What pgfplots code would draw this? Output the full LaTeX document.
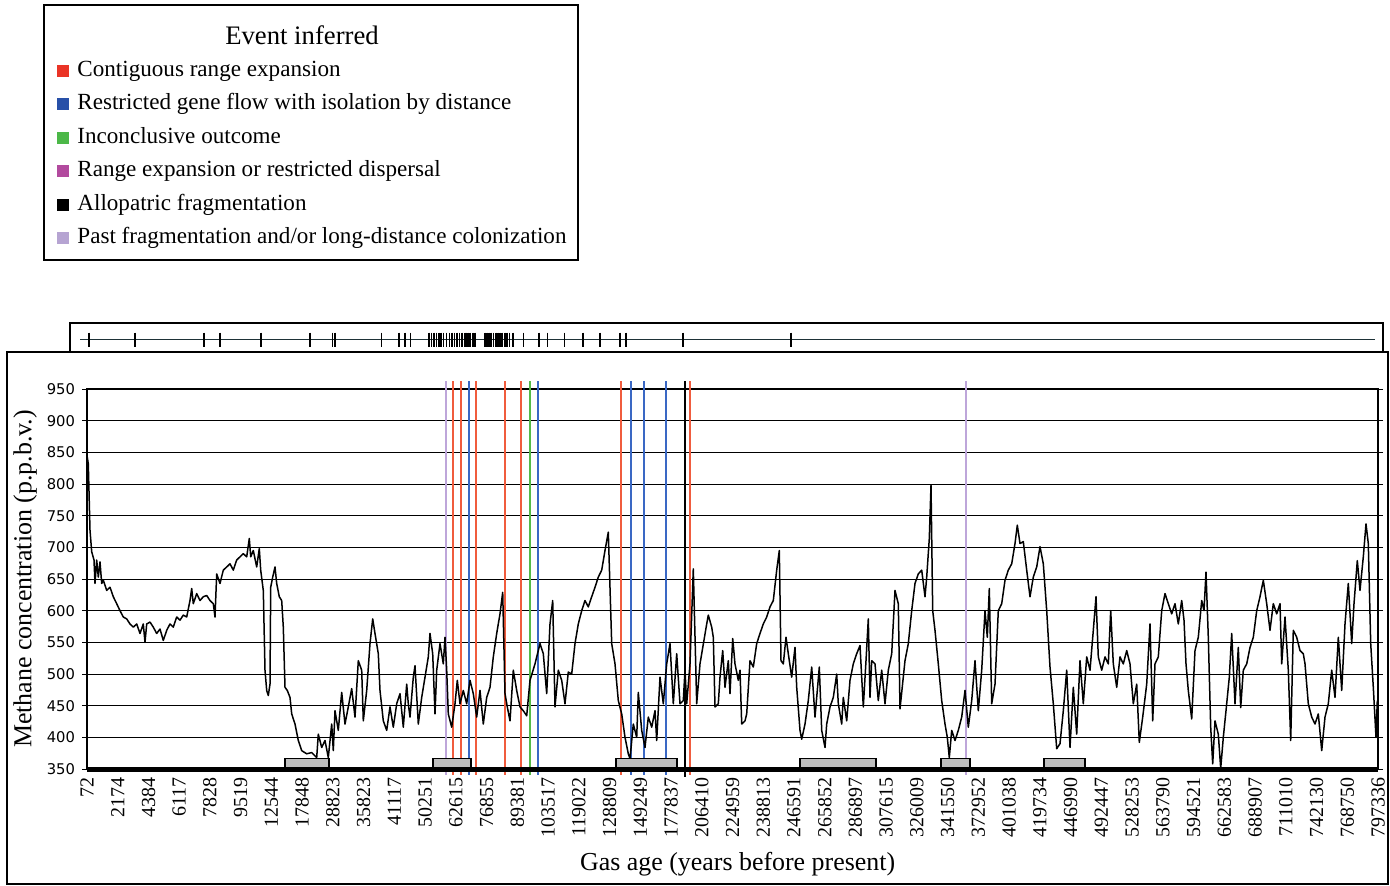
\documentclass[border=0pt]{standalone}
\usepackage{fontspec}
\setmainfont{Liberation Serif}
\newfontfamily\tickfont{DejaVu Sans}
\usepackage{pgfplots}
\pgfplotsset{compat=1.18}
\definecolor{lnred}{RGB}{240,92,62}
\definecolor{lnblue}{RGB}{58,104,196}
\definecolor{lngreen}{RGB}{84,186,72}
\definecolor{lnlav}{RGB}{190,166,218}
\definecolor{sqred}{RGB}{234,52,38}
\definecolor{sqblue}{RGB}{40,80,168}
\definecolor{sqgreen}{RGB}{76,184,72}
\definecolor{sqmag}{RGB}{178,74,158}
\definecolor{sqlav}{RGB}{182,164,210}
\definecolor{boxgray}{RGB}{190,190,190}
\definecolor{stripc}{RGB}{30,50,55}
\begin{document}
\begin{tikzpicture}
% frames
\draw[line width=0.8bp] (3.5bp,1bp) rectangle (694bp,267bp);
\draw[line width=0.8bp] (35bp,267bp) rectangle (691.5bp,281.5bp);
\draw[line width=0.8bp] (22bp,313bp) rectangle (289bp,440.5bp);

% legend
\tikzset{legtxt/.style={anchor=west, inner sep=0pt, text height=1.6ex, text depth=0.4ex,
        font=\fontsize{11.6}{13}\selectfont}}
\node[font=\fontsize{13.4}{15}\selectfont] at (151bp,425.5bp) {Event inferred};
\foreach \yy/\cc/\tt in {407.5/sqred/Contiguous range expansion,
  391/sqblue/Restricted gene flow with isolation by distance,
  374/sqgreen/Inconclusive outcome,
  357.5/sqmag/Range expansion or restricted dispersal,
  340.5/black/Allopatric fragmentation}{
  \fill[\cc] (28.5bp,\yy bp-3bp) rectangle +(6bp,6bp);
  \node[legtxt] at (38.5bp,\yy bp) {\tt};
}
\fill[sqlav] (28.5bp,321bp) rectangle +(6bp,6bp);
\node[legtxt] at (38.5bp,324bp) {Past fragmentation and/or long-distance colonization};

% main chart
\begin{axis}[
  at={(43.5bp,58.5bp)}, anchor=south west, scale only axis,
  width=645.5bp, height=190bp,
  xmin=0, xmax=1291, ymin=350, ymax=950,
  clip=false,
  xtick={0,30.7381,...,1291.2},
  xticklabels={72,2174,4384,6117,7828,9519,12544,17848,28823,35823,41117,50251,62615,76855,89381,103517,119022,128809,149249,177837,206410,224959,238813,246591,265852,286897,307615,326009,341550,372952,401038,419734,446990,492447,528253,563790,594521,662583,688907,711010,742130,768750,797336},
  xtick style={draw=none},
  ytick={350,400,...,950},
  ymajorgrids, grid style={black, line width=0.5bp},
  tick align=outside, ytick style={black, line width=0.5bp}, major tick length=2.5bp,
  axis line style={line width=0.6bp},
  xticklabel style={rotate=90, anchor=east, font=\fontsize{10}{10}\selectfont, inner sep=1.5bp},
  yticklabel style={font=\tickfont\fontsize{7.4}{8}\selectfont},
  /pgf/number format/assume math mode=true,
  xlabel={Gas age (years before present)},
  ylabel={Methane concentration (p.p.b.v.)},
  label style={font=\fontsize{13}{15}\selectfont},
  xlabel style={at={(axis description cs:0.504,-0.25)}, anchor=center},
  ylabel style={at={(axis description cs:-0.048,0.5)}, anchor=center},
]
% inferred events
\addplot[lnlav, line width=1bp] coordinates {(359,341) (359,962)};
\addplot[lnred, line width=1bp] coordinates {(366,341) (366,962)};
\addplot[lnred, line width=1bp] coordinates {(374.3,341) (374.3,962)};
\addplot[lnblue, line width=1bp] coordinates {(382.3,341) (382.3,962)};
\addplot[lnred, line width=1bp] coordinates {(388.7,341) (388.7,962)};
\addplot[lnred, line width=1bp] coordinates {(417.7,341) (417.7,962)};
\addplot[lnred, line width=1bp] coordinates {(433.7,341) (433.7,962)};
\addplot[lngreen, line width=1bp] coordinates {(443,341) (443,962)};
\addplot[lnblue, line width=1bp] coordinates {(451,341) (451,962)};
\addplot[lnred, line width=1bp] coordinates {(534,341) (534,962)};
\addplot[lnblue, line width=1bp] coordinates {(543.7,341) (543.7,962)};
\addplot[lnblue, line width=1bp] coordinates {(557,341) (557,962)};
\addplot[lnblue, line width=1bp] coordinates {(578.7,341) (578.7,962)};
\addplot[black, line width=0.9bp] coordinates {(598.3,338) (598.3,962)};
\addplot[lnred, line width=1bp] coordinates {(603,341) (603,962)};
\addplot[lnlav, line width=1bp] coordinates {(878.5,341) (878.5,962)};

% methane record
\addplot[black, line width=0.75bp, line join=round] coordinates {
(0,845) (1.3,832) (3,727) (4.7,693) (7,680) (8,643) (9.7,680) (11.3,653) (13,677) (14.7,643) (16.3,648) (19.7,632) (23,637) (26.3,622) (29.7,611) (33,600) (36.3,590) (39.7,587) (43,579) (46.3,574) (49.7,579) (53,564) (56.3,579) (58,550) (59.7,579) (63,582) (66.3,574) (69.7,564) (73,571) (76.3,553) (79.7,569) (83,579) (86.3,574) (89.7,590) (93,585) (96.3,593) (99.7,590) (103,616) (104.7,635) (106.3,611) (109.7,627) (113,616) (116.3,622) (119.7,624) (123,616) (126.3,611) (128,590) (129.7,658) (133,643) (136.3,664) (139.7,669) (143,674) (146.3,664) (149.7,680) (153,685) (156.3,690) (159.7,685) (162.3,714) (163.7,685) (166.3,695) (169.7,669) (172.3,698) (173.7,664) (176.3,632) (178,506) (179.7,474) (181.3,466) (183,484) (183.7,637) (185.7,653) (188,669) (189.7,643) (192.3,622) (194.7,616) (196.3,574) (198,479) (200.3,474) (203,463) (204.7,437) (208,421) (211.3,395) (214.7,379) (219.7,374) (224.7,376) (229.7,368) (231.3,405) (234.7,384) (238,395) (241.3,368) (244.7,421) (246.3,379) (248,442) (251.3,411) (254.7,471) (258,421) (261.3,448) (264.7,477) (268,432) (271.3,521) (274.7,506) (276.3,426) (279.7,474) (283,548) (285.7,587) (288,564) (291.3,532) (293,474) (296.3,426) (299.7,411) (303,448) (306.3,416) (309.7,453) (313,469) (316.3,416) (319.7,484) (321.3,453) (323,432) (326.3,495) (328,513) (331.3,421) (334.7,463) (338,495) (341.3,527) (343,564) (345.7,532) (348,437) (349.7,506) (353,548) (356.3,516) (358,558) (359.7,506) (361.3,437) (364.7,416) (368,453) (370.3,490)
(373,453) (376.3,474) (379.7,453) (383,490) (386.3,469) (389.7,432) (393,474) (396.3,421) (399.7,463) (403,479) (406.3,527) (409.7,564) (413,595) (415.7,629) (418,469) (420.3,448) (423,426) (426.3,506) (429.7,474) (433,448) (436.3,442) (439.7,434) (443,490) (448,516) (453,548) (456.3,532) (459.7,469) (463,579) (465.7,616) (468,448) (471.3,506) (474.7,490) (478,453) (481.3,503) (484.7,500) (488,548) (491.3,579) (494.7,600) (498,616) (501.3,606) (504.7,622) (508,637) (511.3,653) (514.7,664) (518,695) (521.3,724) (524.7,548) (528,516) (531.3,458) (534.7,437) (538,400) (541.3,374) (543,366) (546.3,421) (549.7,400) (551.3,471) (554.7,411) (558,384) (561.3,432) (564.7,416) (568,442) (569.7,395) (573,495) (576.3,453) (579.7,516) (583,548) (586.3,453) (589.7,532) (593,453) (596.3,458) (598,506) (599.7,453) (603,516) (606.3,666) (609.7,453) (613,516)
(619.7,579) (621.3,593) (624.7,574) (626.3,558) (628,448) (631.3,453) (633,495) (635.7,537) (638,479) (641.3,521) (643,469) (645.7,556) (648,516) (651.3,490) (653,506) (654.7,421) (658,426) (659.7,437) (663,521) (666.3,511) (669.7,548) (673,564) (676.3,579) (679.7,590) (683,606) (686.3,616) (689.7,664) (692.3,695) (694,521) (696.3,516) (699,558) (701.3,532) (704.7,495) (708,542) (709.7,479) (713,411) (714.7,397) (718,421) (721.3,458) (724.7,511) (728,432) (730.3,474) (732.3,511) (734.7,411) (738,384) (739.7,421) (743,448) (746.3,463) (749.7,500) (751.3,453) (754.7,421) (756.3,463) (759.7,426) (763,490) (766.3,516) (769.7,532) (773,545) (776.3,448) (779,521) (781.3,587) (783,463) (784.7,521) (788,516) (791.3,458) (794.7,506) (798,453) (801.3,506) (804.7,532) (808,632) (811.3,611) (813,445)
(818,521) (821.3,548) (824.7,600) (828,643) (831.3,658) (834.7,664) (838,622) (839.7,653) (842.3,714) (844,798) (845.7,600) (848,569) (851.3,516) (854.7,458) (858,421) (860.3,400) (862.3,368) (864.7,411) (868,395) (871.3,411) (874.7,432) (878,474) (881.3,416) (884.7,458) (888,521) (891.3,442) (894.7,506) (898,600) (900.3,558) (902.3,635) (904.7,453) (908,484) (911.3,600) (914.7,611) (918,648) (921.3,664) (924.7,674) (928,706) (930.3,735) (933,706) (936.3,709) (939.7,664) (943,622) (946.3,653) (949.7,669) (953,701) (956.3,674) (959.7,600) (963,511) (966.3,453) (969.7,382) (973,390) (976.3,442) (979.7,506) (983,384) (986.3,479) (989.7,405) (993,521) (996.3,453) (999.7,527) (1003,506) (1006.3,569) (1009,622) (1011.3,527) (1014.7,506) (1018,527) (1021.3,516) (1023.7,600) (1026.3,516) (1029.7,479) (1033,527) (1036.3,516) (1039.7,537) (1043,516) (1046.3,453) (1049.7,484) (1052.3,392) (1055.7,432) (1059.7,484) (1063,579) (1065.7,426) (1068,516) (1071.3,527) (1074.7,600) (1078,627) (1081.3,611) (1084.7,595) (1088,611) (1091.3,579) (1094.7,616) (1097,585) (1099,516) (1101.3,474) (1104.7,429) (1108,537) (1111.3,558) (1114.7,616) (1117,600) (1119,661) (1121.3,558) (1123.7,416) (1125.7,358) (1128,426) (1131.3,405) (1133.7,351) (1136.3,400) (1139,442) (1142.3,495) (1144.7,564) (1148,453) (1151.3,542) (1153.7,447) (1156.3,506) (1159.7,516) (1163,542) (1166.3,558) (1169.7,600) (1173,622) (1176.3,648) (1179.7,611) (1183,569) (1186.3,611) (1189.7,595) (1193,611) (1194.7,516) (1198,590) (1201.3,506) (1203.7,395) (1206.3,569) (1209.7,558) (1213,537) (1216.3,532) (1218,516) (1221.3,453) (1224.7,432) (1228,421) (1231.3,437) (1234.7,379) (1238,432) (1241.3,453) (1244.7,506) (1248,463) (1251.3,558) (1254.7,474) (1258,579) (1261.3,643) (1264.7,548) (1267,611) (1270.3,679) (1273,632) (1276.3,685) (1279,737) (1281.3,706) (1283.7,548) (1286.3,479) (1289,400) (1290.3,458)
};

% glacial periods
\addplot[draw=black, fill=boxgray, line width=0.6bp] coordinates {(198,350) (198,366) (242,366) (242,350)} --cycle;
\addplot[draw=black, fill=boxgray, line width=0.6bp] coordinates {(346,350) (346,366) (384,366) (384,350)} --cycle;
\addplot[draw=black, fill=boxgray, line width=0.6bp] coordinates {(529,350) (529,366) (590,366) (590,350)} --cycle;
\addplot[draw=black, fill=boxgray, line width=0.6bp] coordinates {(713,350) (713,366) (789,366) (789,350)} --cycle;
\addplot[draw=black, fill=boxgray, line width=0.6bp] coordinates {(854,350) (854,366) (883,366) (883,350)} --cycle;
\addplot[draw=black, fill=boxgray, line width=0.6bp] coordinates {(957,350) (957,366) (998,366) (998,350)} --cycle;
\addplot[black, line width=2.5bp] coordinates {(0,350) (1291,350)};
\end{axis}

% sampling strip
\begin{axis}[
  at={(35bp,267bp)}, anchor=south west, scale only axis,
  width=656.5bp, height=14.5bp,
  xmin=70, xmax=1383, ymin=-1, ymax=1,
  hide axis, clip=false,
]
\addplot[stripc, line width=0.8bp] coordinates {(80,-0.15) (1375,-0.15)};
\addplot[black, only marks, mark=|, mark size=3.5bp, mark options={line width=0.9bp}] coordinates {
(88.6,-0.15) (135,-0.15) (204.2,-0.15) (219.8,-0.15) (260.9,-0.15) (310,-0.15) (332.5,-0.15) (335,-0.15)
(381.4,-0.15) (399.3,-0.15) (404.6,-0.15) (410.4,-0.15) (429,-0.15) (431.5,-0.15) (434,-0.15) (436.5,-0.15)
(439,-0.15) (441,-0.15) (443.5,-0.15) (446.5,-0.15) (449.5,-0.15) (452,-0.15) (454.5,-0.15) (457,-0.15)
(459.5,-0.15) (462,-0.15) (465,-0.15) (466.5,-0.15) (468,-0.15) (470,-0.15) (473,-0.15) (475,-0.15)
(485,-0.15) (487,-0.15) (489,-0.15) (491,-0.15) (493.5,-0.15) (496,-0.15) (498,-0.15) (500,-0.15)
(502,-0.15) (505,-0.15) (507,-0.15) (509.5,-0.15) (513,-0.15) (523.4,-0.15) (539,-0.15) (547.5,-0.15)
(564.5,-0.15) (583.2,-0.15) (600,-0.15) (620.3,-0.15) (626,-0.15) (682.8,-0.15) (791,-0.15)
};
\end{axis}

\pgfresetboundingbox
\path[use as bounding box] (0,0) rectangle (695bp,443bp);
\end{tikzpicture}
\end{document}
